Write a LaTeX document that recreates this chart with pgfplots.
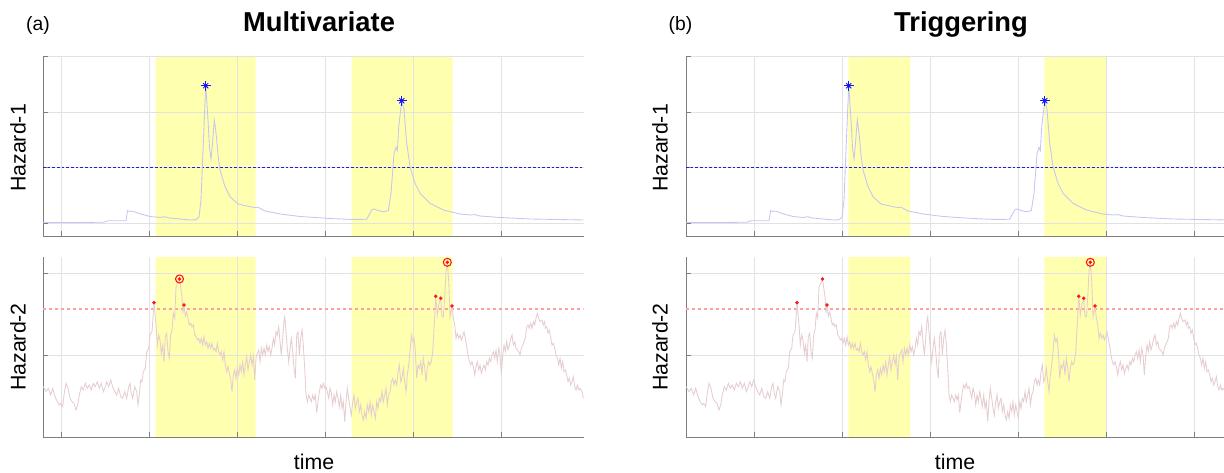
\documentclass[border=0pt]{standalone}
\usepackage{pgfplots}
\usepackage{pgfplotstable}
\pgfplotsset{compat=1.18}
\usepackage{fontspec}
\setmainfont{Liberation Sans}

\definecolor{hone}{RGB}{198,198,242}
\definecolor{htwo}{RGB}{230,205,207}
\definecolor{hl}{RGB}{255,255,176}
\definecolor{axisgray}{RGB}{125,125,125}
\definecolor{gridgray}{RGB}{226,226,226}
\definecolor{thrblue}{RGB}{30,30,225}
\definecolor{thrred}{RGB}{255,160,160}
\definecolor{mkred}{RGB}{255,20,20}
\definecolor{mkblue}{RGB}{20,20,255}

\pgfplotstableread{
x v
43 0.5
80 0.5
104 0.8
108 2.2
126 2.2
127.5 12.3
130 11.6
133 11.8
140 9.2
150 6.5
160 5.5
165 6.3
168 5.2
180 4
190 3
196 3.2
199 6
201 23
203 73
205.7 137.3
208 103
209.5 75
211 64
212.5 80
214.3 103
216 90
218 68
220 53
225 36.3
230 26.3
238 19
250 16.3
255 15.5
258 15.8
265 12
280 9
300 6.5
330 4.5
350 3.6
366.7 3.7
371.7 13
374 14
378 12.5
383.3 11.3
388.3 12.3
391 29.7
394 69.7
396 75.7
397.3 72.3
398.7 96.3
401.7 122.3
404 113
406.7 79.7
410 56.3
415 39.7
420 29.7
430 19.7
443.3 13
460 9
470 8
475 8.4
480 7
500 5.5
530 4
583.5 3
}\hazone

\pgfplotstableread{
x v
43.3 50.3
46 45.3
48.3 48.7
50.7 42
52.7 48.7
55 40.3
57.3 35.3
59.3 32
60.7 33.7
62.7 30.3
64 42
66 53.7
68 48.7
70 38.7
72 35.3
74 33.7
76 27
77.7 32
79.3 42
81.3 50.3
83.3 47
85.3 53.7
87.3 48.7
89.3 52
91.3 47
93.3 53.7
95.3 50.3
97.3 55.3
99.3 48.7
101.3 53.7
103.3 45.3
105.3 50.3
106.7 55.3
108.7 50.3
110.7 57
112.7 50.3
114.7 45.3
116.7 42
118.7 48.7
120.7 40.3
122.7 38.7
124.7 45.3
126.7 38.7
128.7 50.3
130 53.7
131.3 43.7
132.7 38.7
134.7 50.3
136.7 45.3
138 32
139.3 42
140.7 57
142 55.3
143.3 65.3
145.3 68.7
146.7 85.3
148.7 88.7
150 102
152 105.3
154 134.3
156 112
157.3 92
158.7 102
160 97
161.3 83.7
162.7 92
164 75.3
165.3 100.3
166.7 103.7
168 85.3
169.3 78.7
170.7 102
172 107
173.3 123.7
174.7 118.7
176 150.3
177.3 152.7
179.5 158
182 140
183 124
184 132
185.3 121
186.7 125
188 118.7
189.3 112
190.7 113.7
192 110.3
193.3 112
194.7 102
196 100.3
197.3 97
198.7 98.7
200 93.7
201.3 98.7
202.7 92
204 100.3
205.3 92
206.7 95.3
208 88.7
209.3 93.7
210.7 88.7
212 93.7
213.3 87
214.7 88.7
216 85.3
217.3 93.7
218.7 85.3
220 82
221.3 85.3
222.7 77
224 85.3
225.3 72
226.7 65.3
228 70.3
229.3 63.7
230.7 57
232 45.3
233.3 62
234.7 67
236 58.7
237.3 68.7
238.7 62
240 72
241.3 65.3
242.7 75.3
244 62
245.3 72
246.7 80.3
248 67
249.3 75.3
250.7 82
252 72
253.3 80.3
254.7 57
256 78.7
257.3 83.7
258.7 87
260 75.3
261.3 88.7
262.7 82
264 88.7
265.3 82
266.7 92
268 85.3
269.3 90.3
270.7 82
272 88.7
273.3 98.7
274.7 92
276 105.3
277.3 102
278.7 110.3
280 95.3
281.3 82
282.7 98.7
284 117
284.7 120.3
286 105.3
287.3 88.7
288.7 75.3
290 88.7
291.3 98.7
292.7 85.3
294 68.7
295.3 58.7
296.7 102
298 105.3
299.3 82
300.7 98.7
302 107
303.3 92
304.7 68.7
306 42
307.3 35.3
308.7 42
310 38.7
311.3 35.3
312.7 42
314 37
315.3 42
316.7 24.3
318 35.3
319.3 45.3
320.7 52
322 48.7
323.3 53.7
324.7 48.7
326 50.3
327.3 45.3
328.7 38.7
330 48.7
331.3 43.7
332.7 32
334 42
335.3 35.3
336.7 45.3
338 38.7
339.3 30.3
340.7 42
342 28.7
343.3 35.3
344.7 15.3
346 35.3
347.3 48.7
348.7 38.7
350 28.7
351.3 22
352.7 35.3
354 42
355.3 28.7
356.7 35.3
358 38.7
359.3 25.3
360.7 32
362 22
363.3 17
364.7 25.3
366 18.7
367.3 32
368.7 25.3
370 35.3
371.3 22
372.7 32
374 25.3
375.3 18.7
376.7 35.3
378 28.7
379.3 38.7
380.7 35.3
382 45.3
383.3 35.3
384.7 42
386 48.7
387.3 32
388.7 42
390 45.3
391.3 55.3
392.7 58.7
394 52
395.3 57
396.7 52
398 65.3
399.3 72
400.7 55.3
402 58.7
403.3 68.7
404.7 55.3
406 45.3
407.3 62
408.7 72
410 85.3
411.3 102
412.7 95.3
414 98.7
415.3 85.3
416.7 58.7
418 72
419.3 68.7
420.7 75.3
422 62
423.3 78.7
424.7 68.7
426 55.3
427.3 68.7
428.7 75.3
430 72
431.3 75.3
432.7 85.3
434 108.7
435.7 140.7
437.3 122
438.7 132
440.7 138.7
442 120.3
443.3 120
444.7 140
446 165.3
447.3 174.7
448.7 155.3
450 120
451 125
452 131
453.3 118.7
454.7 112
456 98.7
457.3 103.7
458.7 98.7
460 102
461.3 97
462.7 100.3
464 105.3
465.3 98.7
466.7 90.3
468 82
469.3 75.3
470.7 72
472 75.3
473.3 70.3
474.7 62
476 70.3
477.3 75.3
478.7 67
480 72
481.3 63.7
482.7 68.7
484 72
485.3 67
486.7 75.3
488 72
489.3 78.7
490.7 75.3
492 82
493.3 85.3
494.7 78.7
496 87
497.3 75.3
498.7 88.7
500 82
501.3 62
502.7 82
504 92
505.3 85.3
506.7 95.3
508 87
509.3 92
510.7 98.7
512 102
513.3 92
514.7 95.3
516 88.7
517.3 87
518.7 85.3
520 82
521.3 88.7
522.7 92
524 95.3
525.3 98.7
526.7 110.3
528 112
529.3 108.7
530.7 113.7
532 108.7
533.3 115.3
534.7 112
536 118.7
537.3 123.7
538.7 118.7
540 115.3
542 117
543.3 112
544.7 115.3
545.3 108.7
546.7 110.3
548 103.7
549.3 107
550.7 98.7
552 92
553.3 93.7
554.7 88.7
556 82
557.3 78.7
558.7 72
560 78.7
561.3 68.7
562.7 75.3
564 65.3
565.3 67
566.7 62
568 55.3
569.3 58.7
570.7 52
572 55.3
573.3 60.3
574.7 50.3
576 47
577.3 52
578.7 47
580 48.7
582 45.3
583.3 38.7
}\haztwo

\pgfplotsset{
  panel/.style={
    scale only axis, width=405.4pt, xmin=43, xmax=583.5,
    anchor=south west, set layers,
    axis lines*=left, axis line style={-, draw=axisgray, line width=0.6pt},
    tick style={draw=axisgray, line width=0.5pt}, major tick length=3.5pt,
    tick align=inside, xticklabels={}, yticklabels={},
    grid=major, grid style={draw=gridgray, line width=0.5pt},
  },
  toppanel/.style={height=134.6pt, ymin=-13, ymax=166.5, ytick={0,55.5,111,166.5}},
  botpanel/.style={height=135pt, ymin=0, ymax=180, ytick={0,82,164}},
  lefttick/.style={xtick={61.7,149.6,237.4,325.3,413.1,501}},
  righttick/.style={xtick={111,199,287,375,463,551}},
  hz1/.style={draw=hone, line width=0.65pt},
  hz2/.style={draw=htwo, line width=0.65pt},
  thr1/.style={draw=thrblue, line width=0.6pt, dash pattern=on 2pt off 1.5pt},
  thr2/.style={draw=thrred, line width=1.2pt, dash pattern=on 2.5pt off 2pt},
  yband/.style={fill=hl, draw=none, on layer=axis background},
  astplus/.style={only marks, mark=+, mark size=3.8pt, mark options={draw=mkblue, line width=0.6pt}},
  astx/.style={only marks, mark=x, mark size=2.7pt, mark options={draw=mkblue, line width=0.6pt}},
  astdot/.style={only marks, mark=*, mark size=1.3pt, mark options={draw=mkblue, fill=mkblue}},
  rdot/.style={only marks, mark=*, mark size=1.1pt, mark options={draw=mkred, fill=mkred}},
  rring/.style={only marks, mark=o, mark size=3pt, mark options={draw=mkred, line width=0.8pt}},
}

\begin{document}
\begin{tikzpicture}

% ---------- (a) Multivariate ----------
\begin{axis}[panel, toppanel, lefttick, at={(32.25pt,177.75pt)}]
  \addplot[yband] coordinates {(155.7,-13) (255.7,-13) (255.7,166.5) (155.7,166.5) (155.7,-13)};
  \addplot[yband] coordinates {(351.7,-13) (452.7,-13) (452.7,166.5) (351.7,166.5) (351.7,-13)};
  \addplot[thr1] coordinates {(43,55.7) (583.5,55.7)};
  \addplot[hz1] table[x=x,y=v] {\hazone};
  \addplot[astplus] coordinates {(205.7,137.3) (401.7,122.3)};
  \addplot[astx] coordinates {(205.7,137.3) (401.7,122.3)};
  \addplot[astdot] coordinates {(205.7,137.3) (401.7,122.3)};
\end{axis}

\begin{axis}[panel, botpanel, lefttick, at={(32.25pt,27pt)}]
  \addplot[yband] coordinates {(155.7,0) (255.7,0) (255.7,180) (155.7,180) (155.7,0)};
  \addplot[yband] coordinates {(351.7,0) (452.7,0) (452.7,180) (351.7,180) (351.7,0)};
  \addplot[thr2] coordinates {(43,127.7) (583.5,127.7)};
  \addplot[hz2] table[x=x,y=v] {\haztwo};
  \addplot[rdot] coordinates {(154,134.3) (179.5,158) (184,132) (435.7,140.7) (440.7,138.7) (447.3,174.7) (452,131)};
  \addplot[rring] coordinates {(179.5,158) (447.3,174.7)};
\end{axis}

% ---------- (b) Triggering ----------
\begin{axis}[panel, toppanel, righttick, at={(514.5pt,177.75pt)}]
  \addplot[yband] coordinates {(205.3,-13) (267.3,-13) (267.3,166.5) (205.3,166.5) (205.3,-13)};
  \addplot[yband] coordinates {(401.3,-13) (463,-13) (463,166.5) (401.3,166.5) (401.3,-13)};
  \addplot[thr1] coordinates {(43,55.7) (583.5,55.7)};
  \addplot[hz1] table[x=x,y=v] {\hazone};
  \addplot[astplus] coordinates {(205.7,137.3) (401.7,122.3)};
  \addplot[astx] coordinates {(205.7,137.3) (401.7,122.3)};
  \addplot[astdot] coordinates {(205.7,137.3) (401.7,122.3)};
\end{axis}

\begin{axis}[panel, botpanel, righttick, at={(514.5pt,27pt)}]
  \addplot[yband] coordinates {(205.3,0) (267.3,0) (267.3,180) (205.3,180) (205.3,0)};
  \addplot[yband] coordinates {(401.3,0) (463,0) (463,180) (401.3,180) (401.3,0)};
  \addplot[thr2] coordinates {(43,127.7) (583.5,127.7)};
  \addplot[hz2] table[x=x,y=v] {\haztwo};
  \addplot[rdot] coordinates {(154,134.3) (179.5,158) (184,132) (435.7,140.7) (440.7,138.7) (447.3,174.7) (452,131)};
  \addplot[rring] coordinates {(447.3,174.7)};
\end{axis}

% ---------- texts ----------
\node[anchor=base, font=\fontsize{14.5}{17}\selectfont] at (28.5pt,331.5pt) {(a)};
\node[anchor=base, font=\fontsize{20.5}{24}\selectfont\bfseries] at (239.25pt,331pt) {Multivariate};
\node[anchor=base, font=\fontsize{14.5}{17}\selectfont] at (510.4pt,331.5pt) {(b)};
\node[anchor=base, font=\fontsize{20.5}{24}\selectfont\bfseries] at (720.75pt,331pt) {Triggering};

\node[rotate=90, font=\fontsize{16}{19}\selectfont] at (13.5pt,243.75pt) {Hazard-1};
\node[rotate=90, font=\fontsize{16}{19}\selectfont] at (13.5pt,94.5pt) {Hazard-2};
\node[rotate=90, font=\fontsize{16}{19}\selectfont] at (495pt,243.75pt) {Hazard-1};
\node[rotate=90, font=\fontsize{16}{19}\selectfont] at (495pt,94.5pt) {Hazard-2};

\node[anchor=base, font=\fontsize{16}{19}\selectfont] at (235.5pt,2.6pt) {time};
\node[anchor=base, font=\fontsize{16}{19}\selectfont] at (716.25pt,2.6pt) {time};

\pgfresetboundingbox
\path[use as bounding box] (0,0) rectangle (918pt,354.75pt);
\end{tikzpicture}
\end{document}
